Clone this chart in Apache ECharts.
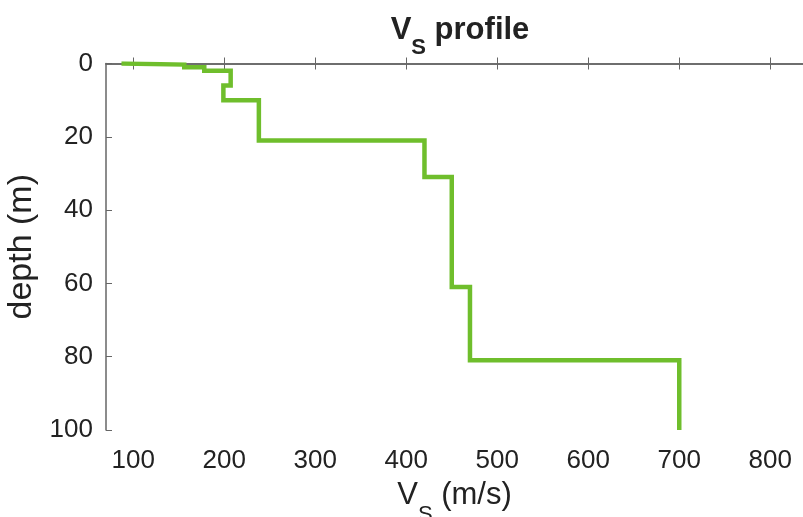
<!DOCTYPE html>
<html>
<head>
<meta charset="utf-8">
<script src="https://cdn.jsdelivr.net/npm/echarts@6/dist/echarts.min.js"></script>
<style>
  html, body { margin: 0; padding: 0; background: #fff; }
  #chart { width: 803px; height: 517px; }
</style>
</head>
<body>
<div id="chart"></div>
<script>
// layer shear-wave velocities (m/s) and layer boundaries (m)
const vsLayers = [87, 156, 178, 207, 199, 238, 420, 450, 470, 700]
const layerTop = [0, 0.3, 1, 2, 6, 10, 21, 31, 61, 81]
const layerBottom = [0.3, 1, 2, 6, 10, 21, 31, 61, 81, 100]
const xTicks = [100, 200, 300, 400, 500, 600, 700, 800]
const yTicks = [0, 20, 40, 60, 80, 100]

// staircase: each layer gives a vertical segment at its velocity
const profile = []
vsLayers.forEach((v, i) => {
  profile.push([v, layerTop[i]])
  profile.push([v, layerBottom[i]])
})

const FONT = 'Liberation Sans'
const AXIS_COLOR = '#666'

const chart = echarts.init(document.getElementById('chart'))
chart.setOption({
  animation: false,
  title: {
    text: '{v|V}{s|S}{p| profile}',
    left: 455,
    textAlign: 'center',
    top: 10,
    textStyle: {
      rich: {
        v: { fontFamily: FONT, fontSize: 31, fontWeight: 'bold', color: '#222', verticalAlign: 'top', lineHeight: 32 },
        s: { fontFamily: FONT, fontSize: 22, fontWeight: 'bold', color: '#222', verticalAlign: 'bottom', lineHeight: 44 },
        p: { fontFamily: FONT, fontSize: 31, fontWeight: 'bold', color: '#222', verticalAlign: 'top', lineHeight: 32 }
      }
    }
  },
  grid: { left: 106, right: 0, top: 63.5, bottom: 87, outerBoundsMode: 'none' },
  xAxis: [
    {
      type: 'value',
      position: 'bottom',
      min: 70,
      max: 836,
      name: '{v|V}{s|S}{p| (m/s)}',
      nameLocation: 'middle',
      nameGap: 50,
      nameTextStyle: {
        rich: {
          v: { fontFamily: FONT, fontSize: 31, color: '#222', verticalAlign: 'top', lineHeight: 32 },
          s: { fontFamily: FONT, fontSize: 22, color: '#222', verticalAlign: 'bottom', lineHeight: 46 },
          p: { fontFamily: FONT, fontSize: 31, color: '#222', verticalAlign: 'top', lineHeight: 32 }
        }
      },
      axisLine: { show: true, lineStyle: { color: AXIS_COLOR, width: 1.5 } },
      axisTick: { show: true, inside: true, length: 6, customValues: xTicks, lineStyle: { color: AXIS_COLOR } },
      axisLabel: { customValues: xTicks, fontFamily: FONT, fontSize: 26, color: '#222', margin: 18 },
      splitLine: { show: false }
    },
    {
      type: 'value',
      position: 'top',
      min: 70,
      max: 836,
      axisLine: { show: true, lineStyle: { color: AXIS_COLOR, width: 1.5 } },
      axisTick: { show: true, inside: true, length: 6, customValues: xTicks, lineStyle: { color: AXIS_COLOR } },
      axisLabel: { show: false },
      splitLine: { show: false }
    }
  ],
  yAxis: {
    type: 'value',
    inverse: true,
    min: 0,
    max: 100,
    interval: 20,
    name: 'depth (m)',
    nameLocation: 'middle',
    nameGap: 60,
    nameTextStyle: { fontFamily: FONT, fontSize: 34, color: '#222' },
    axisLine: { show: true, lineStyle: { color: AXIS_COLOR, width: 1.5 } },
    axisTick: { show: true, inside: true, length: 6, customValues: yTicks, lineStyle: { color: AXIS_COLOR } },
    axisLabel: { customValues: yTicks, fontFamily: FONT, fontSize: 26, color: '#222', margin: 13 },
    splitLine: { show: false }
  },
  series: [
    {
      type: 'line',
      xAxisIndex: 0,
      data: profile,
      showSymbol: false,
      symbol: 'none',
      lineStyle: { color: '#6fbe2c', width: 4.5, join: 'miter' }
    }
  ]
})
</script>
</body>
</html>
